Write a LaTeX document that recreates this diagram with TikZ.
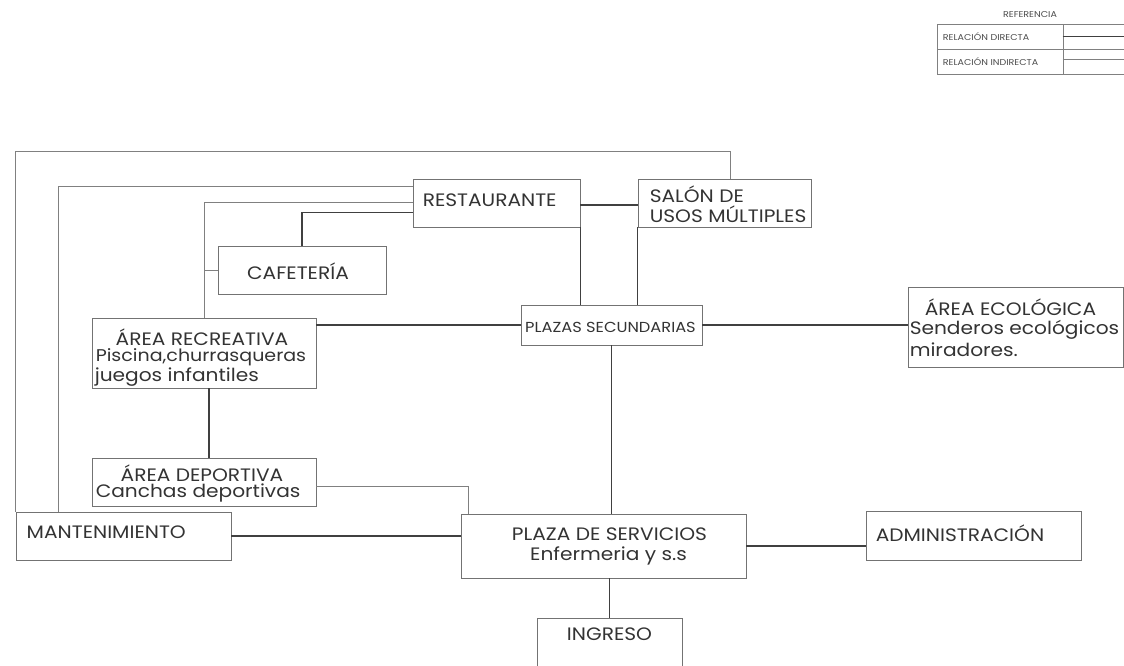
\documentclass[tikz,border=0pt]{standalone}
\usepackage{fontspec}
\setmainfont[FakeStretch=1.12]{Poppins}
\usetikzlibrary{calc}
\begin{document}
\begin{tikzpicture}[x=1pt, y=-1pt,
  box/.style={draw=black!55, line width=0.9pt, inner sep=0pt},
  cell/.style={draw=black!50, line width=0.6pt, inner sep=0pt, minimum height=25pt},
  direct/.style={black!75, line width=1.5pt},
  indirect/.style={black!50, line width=0.9pt},
  txt/.style={inner sep=0pt, text=black!80, font=\fontsize{18}{21}\selectfont},
  smalltxt/.style={inner sep=0pt, text=black!80, font=\fontsize{14.5}{17}\selectfont},
  legtxt/.style={inner sep=0pt, text=black!70, font=\fontsize{8.5}{10}\selectfont}]
\useasboundingbox (0,0) rectangle (1124,666);
% legend
\node[legtxt] (legtitle) at (1030,15) {REFERENCIA};
\node[cell, minimum width=126pt] (legdir) at (1000,36.5) {};
\node[cell, minimum width=126pt] (legind) at (1000,61.5) {};
\node[cell, minimum width=61pt] (sampdir) at (1093.5,36.5) {};
\node[cell, minimum width=61pt] (sampind) at (1093.5,61.5) {};
\node[legtxt, anchor=west] (legdirt) at ($(legdir.west)+(6,0)$) {RELACIÓN DIRECTA};
\node[legtxt, anchor=west] (legindt) at ($(legind.west)+(6,0)$) {RELACIÓN INDIRECTA};
\draw[direct, line width=1.2pt] (sampdir.west) -- (sampdir.east);
\draw[indirect, line width=0.6pt] ($(sampind.west)+(0,-2)$) -- ($(sampind.east)+(0,-2)$);
% boxes
\node[box, minimum width=167pt, minimum height=48pt] (rest) at (496.5,203) {};
\node[box, minimum width=173pt, minimum height=48pt] (salon) at (724.5,203) {};
\node[box, minimum width=168pt, minimum height=48pt] (cafe) at (302,270) {};
\node[box, minimum width=224pt, minimum height=70pt] (recre) at (204,353) {};
\node[box, minimum width=181pt, minimum height=40pt] (plazsec) at (611.5,325) {};
\node[box, minimum width=215pt, minimum height=80pt] (eco) at (1015.5,327) {};
\node[box, minimum width=224pt, minimum height=48pt] (depor) at (204,482) {};
\node[box, minimum width=215pt, minimum height=48pt] (mant) at (123.5,536) {};
\node[box, minimum width=285pt, minimum height=64pt] (plaza) at (603.5,546) {};
\node[box, minimum width=215pt, minimum height=49pt] (admin) at (973.5,535.5) {};
\node[box, minimum width=145pt, minimum height=52pt] (ingreso) at (609.5,644) {};
% texts
\node[txt, anchor=west] (restt) at ($(rest.west)+(10,-3)$) {RESTAURANTE};
\node[txt, anchor=west] (salont1) at ($(salon.west)+(12,-9)$) {SALÓN DE};
\node[txt, anchor=west] (salont2) at ($(salon.west)+(12,11)$) {USOS MÚLTIPLES};
\node[txt] (cafet) at ($(cafe.center)+(-4,1)$) {CAFETERÍA};
\node[txt] (recret1) at ($(recre.center)+(-2,-16)$) {ÁREA RECREATIVA};
\node[txt, anchor=west, font=\fontsize{17}{21}\selectfont] (recret2) at ($(recre.west)+(4,4)$) {Piscina,churrasqueras};
\node[txt, anchor=west] (recret3) at ($(recre.west)+(3,24)$) {juegos infantiles};
\node[smalltxt] (plazsect) at ($(plazsec.center)+(-1,2)$) {PLAZAS SECUNDARIAS};
\node[txt] (ecot1) at ($(eco.center)+(-5,-20)$) {ÁREA ECOLÓGICA};
\node[txt, anchor=west] (ecot2) at ($(eco.west)+(2,3)$) {Senderos ecológicos};
\node[txt, anchor=west] (ecot3) at ($(eco.west)+(2,23)$) {miradores.};
\node[txt] (deport1) at ($(depor.center)+(-2,-9)$) {ÁREA DEPORTIVA};
\node[txt, anchor=west] (deport2) at ($(depor.west)+(4,11)$) {Canchas deportivas};
\node[txt, anchor=west] (mantt) at ($(mant.west)+(11,-4)$) {MANTENIMIENTO};
\node[txt] (plazat1) at ($(plaza.center)+(6,-12)$) {PLAZA DE SERVICIOS};
\node[txt] (plazat2) at ($(plaza.center)+(5,10)$) {Enfermeria y s.s};
\node[txt, anchor=west] (admint) at ($(admin.west)+(10,-2)$) {ADMINISTRACIÓN};
\node[txt] (ingresot) at ($(ingreso.north)+(0,17)$) {INGRESO};
% relations
\draw[indirect] ($(salon.north)+(5.5,0)$) -- ++(0,-27) -| (mant.north west);
\draw[indirect] ($(rest.north west)+(0,8)$) -| ($(mant.north west)+(43,0)$);
\draw[indirect] ($(rest.north west)+(0,24)$) -| (recre.north);
\draw[indirect] (cafe.west) -- ++(-14,0);
\draw[direct] ($(rest.north west)+(0,34)$) -| (cafe.north);
\draw[direct] ($(rest.east)+(0,2)$) -- ($(salon.west)+(0,2)$);
\draw[direct] (rest.south east) -- (plazsec.north -| rest.east);
\draw[direct] (salon.south west) -- (plazsec.north -| salon.west);
\draw[direct] (plazsec.west) -- (plazsec.west -| recre.east);
\draw[direct] (plazsec.east) -- (plazsec.east -| eco.west);
\draw[direct] ($(recre.south)+(5,0)$) -- ($(depor.north)+(5,0)$);
\draw[indirect] ($(depor.east)+(0,4)$) -| ($(plaza.north west)+(8,0)$);
\draw[direct] (mant.east) -- (mant.east -| plaza.west);
\draw[direct] (plazsec.south) -- (plazsec.south |- plaza.north);
\draw[direct] (plaza.east) -- (plaza.east -| admin.west);
\draw[direct] (plaza.south -| ingreso.north) -- (ingreso.north);
\end{tikzpicture}
\end{document}
